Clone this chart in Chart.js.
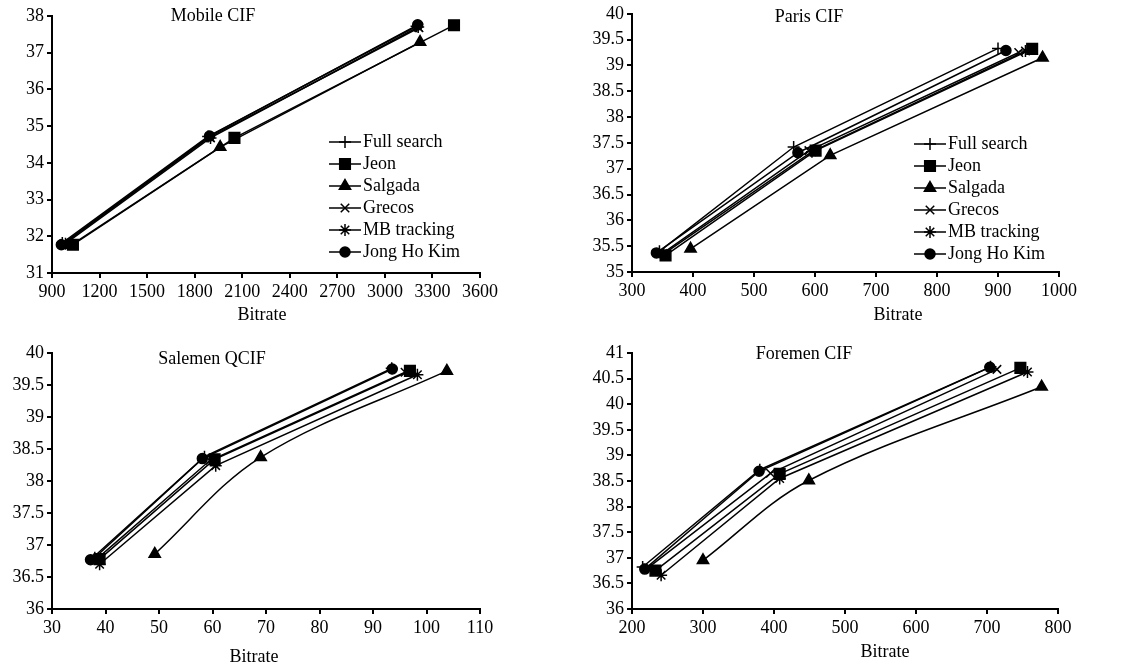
<!DOCTYPE html>
<html><head><meta charset="utf-8">
<script src="https://cdn.jsdelivr.net/npm/chart.js@4/dist/chart.umd.min.js"></script>
<style>
html,body{margin:0;padding:0;background:#fff;width:1122px;height:668px;overflow:hidden}
canvas{position:absolute}
</style></head><body>
<canvas id="c1" width="561" height="334" style="left:0;top:0"></canvas>
<canvas id="c2" width="561" height="334" style="left:561px;top:0"></canvas>
<canvas id="c3" width="561" height="334" style="left:0;top:334px"></canvas>
<canvas id="c4" width="561" height="334" style="left:561px;top:334px"></canvas>
<script>
const seriesNames = ['Full search','Jeon','Salgada','Grecos','MB tracking','Jong Ho Kim'];
const pointStyles = ['cross','rect','triangle','crossRot','star','circle'];
const pointRadii = [6,7.5,6.5,6,6,5];

// Mobile CIF  [bitrate, PSNR]
const mobileFullSearch = [[965,31.82],[1885,34.72],[3200,37.72]];
const mobileJeon       = [[1032,31.77],[2051,34.68],[3436,37.75]];
const mobileSalgada    = [[1020,31.76],[1961,34.43],[3222,37.29]];
const mobileGrecos     = [[975,31.80],[1895,34.70],[3215,37.68]];
const mobileMB         = [[985,31.80],[1900,34.68],[3210,37.70]];
const mobileKim        = [[959,31.77],[1894,34.73],[3207,37.76]];
const mobileXTicks = [900,1200,1500,1800,2100,2400,2700,3000,3300,3600];
const mobileYTicks = [31,32,33,34,35,36,37,38];

// Paris CIF
const parisFullSearch = [[345,35.40],[565,37.42],[900,39.33]];
const parisJeon       = [[355,35.32],[601,37.35],[956,39.32]];
const parisSalgada    = [[396,35.45],[625,37.26],[973,39.15]];
const parisGrecos     = [[350,35.36],[590,37.35],[934,39.25]];
const parisMB         = [[352,35.35],[595,37.33],[945,39.28]];
const parisKim        = [[340,35.37],[572,37.31],[913,39.29]];
const parisXTicks = [300,400,500,600,700,800,900,1000];
const parisYTicks = [35,35.5,36,36.5,37,37.5,38,38.5,39,39.5,40];

// Salemen QCIF
const salemenFullSearch = [[38.0,36.80],[58.5,38.38],[93.5,39.76]];
const salemenJeon       = [[38.9,36.78],[60.4,38.34],[96.9,39.72]];
const salemenSalgada    = [[49.2,36.86],[69.0,38.37],[103.8,39.72]];
const salemenGrecos     = [[38.5,36.79],[59.5,38.32],[96.0,39.70]];
const salemenMB         = [[38.9,36.70],[60.6,38.24],[98.3,39.66]];
const salemenKim        = [[37.2,36.77],[58.1,38.35],[93.6,39.75]];
const salemenXTicks = [30,40,50,60,70,80,90,100,110];
const salemenYTicks = [36,36.5,37,37.5,38,38.5,39,39.5,40];

// Foremen CIF
const foremenFullSearch = [[215,36.82],[380,38.72],[705,40.73]];
const foremenJeon       = [[233,36.75],[408,38.64],[747,40.71]];
const foremenSalgada    = [[300,36.95],[449,38.51],[777,40.34]];
const foremenGrecos     = [[222,36.80],[395,38.65],[714,40.68]];
const foremenMB         = [[241,36.66],[408,38.55],[757,40.63]];
const foremenKim        = [[218,36.78],[379,38.69],[704,40.72]];
const foremenXTicks = [200,300,400,500,600,700,800];
const foremenYTicks = [36,36.5,37,37.5,38,38.5,39,39.5,40,40.5,41];

const FONT = '"Liberation Serif","Times New Roman",serif';
Chart.defaults.font.family = FONT;
Chart.defaults.font.size = 18;
Chart.defaults.color = '#000';

const overlay = {
  id: 'overlay',
  afterDraw(chart, args, o) {
    const ctx = chart.ctx;
    ctx.save();
    ctx.fillStyle = '#000'; ctx.strokeStyle = '#000';
    ctx.font = '18px ' + FONT;
    ctx.textBaseline = 'middle';
    ctx.textAlign = 'center';
    ctx.fillText(o.title, o.titleX, o.titleY);
    ctx.fillText('Bitrate', o.axisX, o.axisY);
    if (o.legend) {
      const L = o.legend;
      chart.data.datasets.forEach((ds, i) => {
        const y = L.y + i * L.step;
        ctx.lineWidth = 1.5;
        ctx.strokeStyle = '#000';
        ctx.beginPath(); ctx.moveTo(L.x0, y); ctx.lineTo(L.x1, y); ctx.stroke();
        ctx.fillStyle = '#000';
        Chart.helpers.drawPoint(ctx, {pointStyle: ds.pointStyle, radius: ds.pointRadius, borderWidth: 1.5, rotation: 0}, (L.x0 + L.x1) / 2, y);
        ctx.fillStyle = '#000';
        ctx.textAlign = 'left';
        ctx.fillText(ds.label, L.tx, y);
      });
    }
    ctx.restore();
  }
};

function makeChart(id, series, xTicks, yTicks, lay, ov, curved) {
  const datasets = series.map((pts, i) => ({
    label: seriesNames[i],
    data: pts.map(p => ({x: p[0], y: p[1]})),
    borderColor: '#000', backgroundColor: '#000',
    borderWidth: 1.5,
    pointStyle: pointStyles[i], pointRadius: pointRadii[i],
    pointBorderColor: '#000', pointBackgroundColor: '#000', pointBorderWidth: 1.5,
    tension: (curved && i === 2) ? 0.35 : 0,
    showLine: true, fill: false
  }));
  const axisCommon = (ticks, isX) => ({
    type: 'linear',
    min: ticks[0], max: ticks[ticks.length - 1],
    afterBuildTicks: s => { s.ticks = ticks.map(v => ({value: v})); },
    afterFit: s => { if (isX) s.height = lay.xHeight; else s.width = lay.yWidth; },
    grid: {display: true, drawOnChartArea: false, drawTicks: true, tickLength: 5, color: '#000', lineWidth: 2},
    border: {display: true, color: '#000', width: 2},
    ticks: {color: '#000', padding: isX ? 3 : 3, autoSkip: false, maxRotation: 0, callback: v => String(v), font: {size: 18}}
  });
  return new Chart(document.getElementById(id), {
    type: 'scatter',
    data: {datasets},
    options: {
      responsive: false, animation: false, devicePixelRatio: 1,
      layout: {padding: {left: 0, top: lay.top, right: lay.right, bottom: 0}},
      plugins: {legend: {display: false}, tooltip: {enabled: false}, title: {display: false}, overlay: ov},
      scales: {x: axisCommon(xTicks, true), y: axisCommon(yTicks, false)}
    },
    plugins: [overlay]
  });
}

makeChart('c1', [mobileFullSearch, mobileJeon, mobileSalgada, mobileGrecos, mobileMB, mobileKim],
  mobileXTicks, mobileYTicks, {yWidth: 52, xHeight: 61, top: 16, right: 81},
  {title: 'Mobile CIF', titleX: 213, titleY: 16, axisX: 262, axisY: 315,
   legend: {x0: 329, x1: 361, tx: 363, y: 142, step: 22}}, false);

makeChart('c2', [parisFullSearch, parisJeon, parisSalgada, parisGrecos, parisMB, parisKim],
  parisXTicks, parisYTicks, {yWidth: 71, xHeight: 62, top: 12, right: 63},
  {title: 'Paris CIF', titleX: 248, titleY: 17, axisX: 337, axisY: 315,
   legend: {x0: 353, x1: 385, tx: 387, y: 144, step: 22}}, false);

makeChart('c3', [salemenFullSearch, salemenJeon, salemenSalgada, salemenGrecos, salemenMB, salemenKim],
  salemenXTicks, salemenYTicks, {yWidth: 52, xHeight: 59, top: 19, right: 81},
  {title: 'Salemen QCIF', titleX: 212, titleY: 25, axisX: 254, axisY: 323}, true);

makeChart('c4', [foremenFullSearch, foremenJeon, foremenSalgada, foremenGrecos, foremenMB, foremenKim],
  foremenXTicks, foremenYTicks, {yWidth: 71, xHeight: 59, top: 19, right: 64},
  {title: 'Foremen CIF', titleX: 243, titleY: 20, axisX: 324, axisY: 318}, true);
</script>
</body></html>
